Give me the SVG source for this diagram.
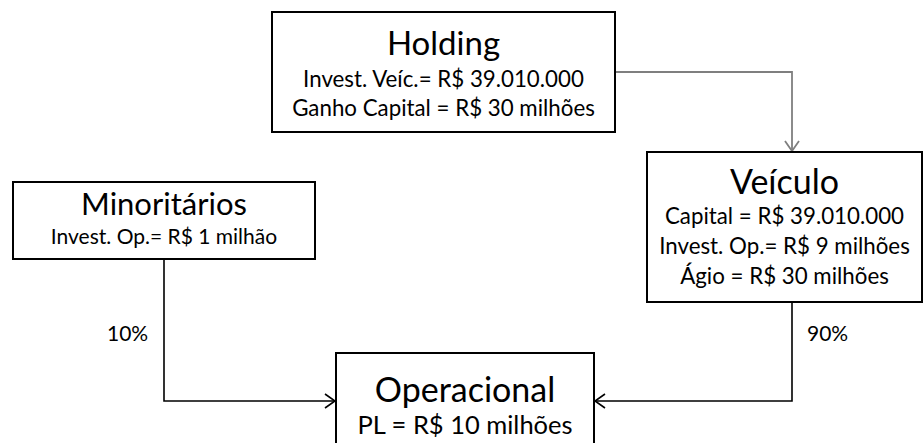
<svg xmlns="http://www.w3.org/2000/svg" width="923" height="443" viewBox="0 0 923 443">
  <style>
    .box { fill: #ffffff; stroke: #000000; stroke-width: 2; }
    .title { font-family: Lato, "Liberation Sans", sans-serif; font-size: 33px; fill: #000000; text-anchor: middle; }
    .line { font-family: Lato, "Liberation Sans", sans-serif; font-size: 22.3px; fill: #000000; text-anchor: middle; }
    .pct { font-family: Lato, "Liberation Sans", sans-serif; font-size: 21px; fill: #000000; }
    .wire { fill: none; stroke: #000000; stroke-width: 1.6; }
    .wire-gray { fill: none; stroke: #7f7f7f; stroke-width: 1.8; }
  </style>
  <defs>
    <marker id="open-arrow" viewBox="0 0 12 16" refX="11" refY="8" markerWidth="12" markerHeight="16" markerUnits="userSpaceOnUse" orient="auto">
      <path d="M1,1 L11,8 L1,15" fill="none" stroke="#000000" stroke-width="1.6"/>
    </marker>
    <marker id="open-arrow-gray" viewBox="0 0 12 16" refX="11" refY="8" markerWidth="12" markerHeight="16" markerUnits="userSpaceOnUse" orient="auto">
      <path d="M1,1 L11,8 L1,15" fill="none" stroke="#7f7f7f" stroke-width="1.8"/>
    </marker>
  </defs>

  <g id="connectors">
    <path class="wire-gray" d="M615,72 H792 V151" marker-end="url(#open-arrow-gray)"/>
    <path class="wire" d="M164,259 V401 H335" marker-end="url(#open-arrow)"/>
    <path class="wire" d="M792,302 V401 H595" marker-end="url(#open-arrow)"/>
    <text class="pct" x="107" y="341">10%</text>
    <text class="pct" x="807" y="341">90%</text>
  </g>

  <g id="holding">
    <rect class="box" x="272" y="12" width="343" height="120"/>
    <text class="title" x="443.5" y="55">Holding</text>
    <text class="line" x="443.5" y="87">Invest. Veíc.= R$ 39.010.000</text>
    <text class="line" x="443.5" y="116">Ganho Capital = R$ 30 milhões</text>
  </g>

  <g id="veiculo">
    <rect class="box" x="647" y="152" width="275" height="150"/>
    <text class="title" x="784.5" y="194" style="font-size:34px">Veículo</text>
    <text class="line" x="784.5" y="224">Capital = R$ 39.010.000</text>
    <text class="line" x="784.5" y="254">Invest. Op.= R$ 9 milhões</text>
    <text class="line" x="784.5" y="284">Ágio = R$ 30 milhões</text>
  </g>

  <g id="minoritarios">
    <rect class="box" x="13" y="182" width="302" height="77"/>
    <text class="title" x="164" y="215" style="font-size:31px">Minoritários</text>
    <text class="line" x="164" y="244" style="font-size:21px">Invest. Op.= R$ 1 milhão</text>
  </g>

  <g id="operacional">
    <rect class="box" x="336" y="353" width="258" height="100"/>
    <text class="title" x="465" y="402" style="font-size:34px">Operacional</text>
    <text class="line" x="465" y="434" style="font-size:25.5px">PL = R$ 10 milhões</text>
  </g>
</svg>
